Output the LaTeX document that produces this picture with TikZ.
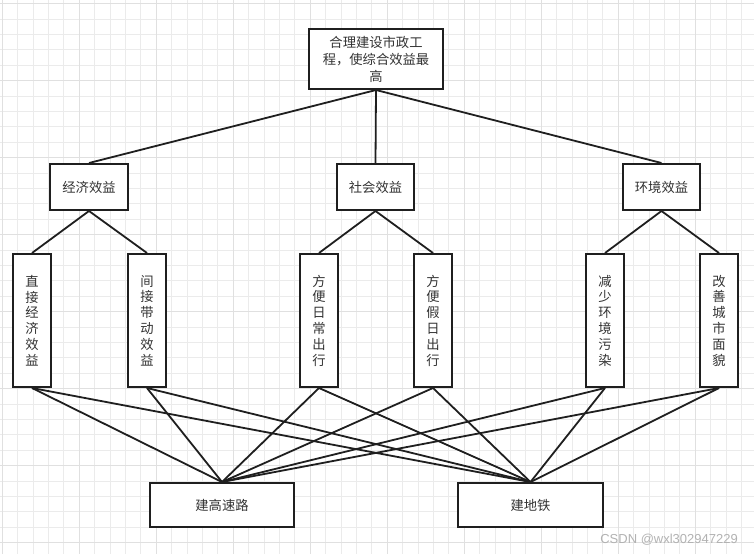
\documentclass[tikz,border=0pt]{standalone}
\usepackage{fontspec}
\setmainfont{Noto Sans CJK SC}
\newfontfamily\wmfont{Liberation Sans}
\begin{document}
\begin{tikzpicture}[x=1pt,y=-1pt,
  box/.style={draw=black!88, line width=2pt, fill=white, inner sep=0pt, text=black!80,
    font=\fontsize{13.3}{15.8}\selectfont, align=center},
  vbox/.style={box, minimum width=38pt, minimum height=133pt},
  hbox/.style={box, minimum width=77pt, minimum height=46pt},
  bbox/.style={box, minimum width=144pt, minimum height=44pt},
  link/.style={draw=black!88, line width=1.8pt},
  minorgrid/.style={draw=black!8, line width=0.6pt},
  majorgrid/.style={draw=black!12, line width=1pt}]
\useasboundingbox (0,0) rectangle (754,554);
\fill[white] (0,0) rectangle (754,554);
% grid
\foreach \i in {0,...,49} {
  \pgfmathsetmacro{\xx}{2+15.4*\i}
  \draw[minorgrid] (\xx,0) -- (\xx,554);
}
\foreach \i in {0,...,36} {
  \pgfmathsetmacro{\yy}{3.5+15.4*\i}
  \draw[minorgrid] (0,\yy) -- (754,\yy);
}
\foreach \i in {0,...,9} {
  \pgfmathsetmacro{\xx}{2+77*\i}
  \draw[majorgrid] (\xx,0) -- (\xx,554);
}
\foreach \i in {0,...,7} {
  \pgfmathsetmacro{\yy}{3.5+77*\i}
  \draw[majorgrid] (0,\yy) -- (754,\yy);
}
% nodes
\node[box, minimum width=134pt, minimum height=60pt, font=\fontsize{13.3}{17}\selectfont] (top) at (376,59)
  {合理建设市政工\\程，使综合效益最\\高};
\node[hbox, minimum width=78pt] (econ) at (89,187) {经济效益};
\node[hbox] (soc) at (375.5,187) {社会效益};
\node[hbox] (env) at (661.5,187) {环境效益};
\node[vbox] (d1) at (32,320.5) {直\\接\\经\\济\\效\\益};
\node[vbox] (d2) at (147,320.5) {间\\接\\带\\动\\效\\益};
\node[vbox] (d3) at (319,320.5) {方\\便\\日\\常\\出\\行};
\node[vbox] (d4) at (433,320.5) {方\\便\\假\\日\\出\\行};
\node[vbox] (d5) at (605,320.5) {减\\少\\环\\境\\污\\染};
\node[vbox] (d6) at (719,320.5) {改\\善\\城\\市\\面\\貌};
\node[bbox] (hw) at (222,505) {建高速路};
\node[bbox, minimum width=145pt] (mt) at (530.5,505) {建地铁};
% connectors
\draw[link] (top.south) -- (econ.north);
\draw[link] (top.south) -- (soc.north);
\draw[link] (top.south) -- (env.north);
\draw[link] (econ.south) -- (d1.north);
\draw[link] (econ.south) -- (d2.north);
\draw[link] (soc.south) -- (d3.north);
\draw[link] (soc.south) -- (d4.north);
\draw[link] (env.south) -- (d5.north);
\draw[link] (env.south) -- (d6.north);
\foreach \d in {d1,d2,d3,d4,d5,d6} {
  \draw[link] (\d.south) -- (hw.north);
  \draw[link] (\d.south) -- (mt.north);
}
% watermark
\node[text=black!30, font=\wmfont\fontsize{13}{15}\selectfont, anchor=east, inner sep=0pt] (wm) at (738,540) {CSDN @wxl302947229};
\end{tikzpicture}
\end{document}
